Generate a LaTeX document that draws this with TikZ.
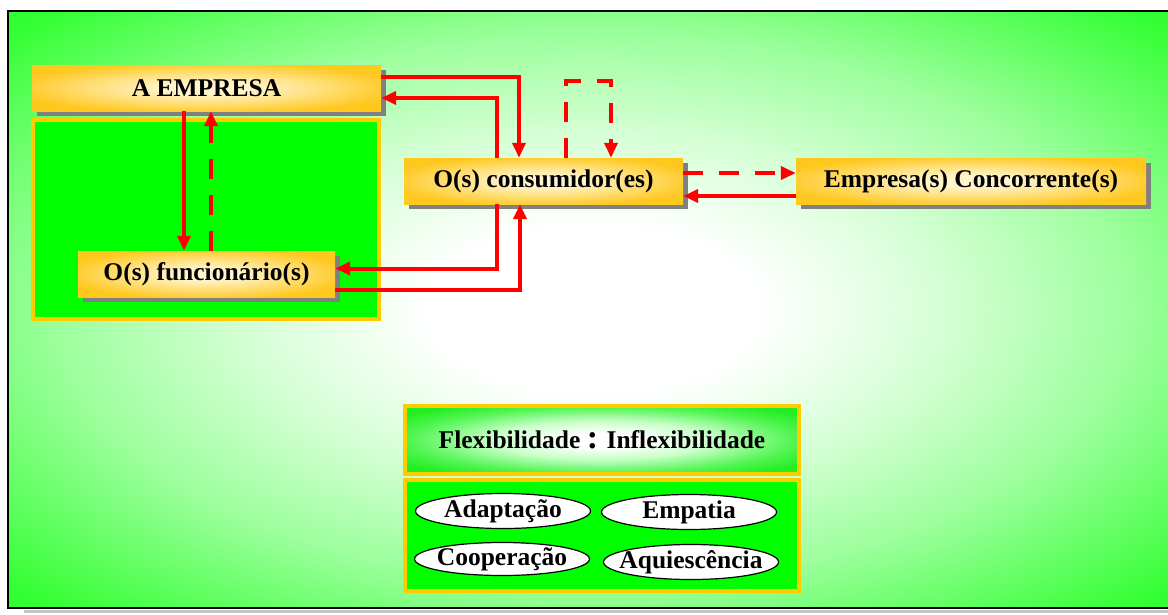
\documentclass[tikz,border=0pt]{standalone}
\usepackage{fontspec}
\setmainfont{Liberation Serif}
\usetikzlibrary{arrows.meta,shapes.geometric,shadows}

\definecolor{gold}{HTML}{FFC81E}
\definecolor{goldlight}{HTML}{FFF4CC}
\definecolor{puregreen}{HTML}{00FF00}
\definecolor{bordergold}{HTML}{FFCC00}
\definecolor{arrowred}{HTML}{FF0000}
\definecolor{gA}{HTML}{D4FFD4}
\definecolor{gB}{HTML}{9CFF9C}
\definecolor{gC}{HTML}{62FF62}
\definecolor{gD}{HTML}{33FF33}
\definecolor{gE}{HTML}{18FF18}
\definecolor{pA}{HTML}{C8FFC8}
\definecolor{pB}{HTML}{55F555}
\definecolor{pC}{HTML}{22EE22}

% glowing gold boxes
\pgfdeclareradialshading{goldglow}{\pgfpoint{0bp}{0bp}}{%
  color(0bp)=(goldlight); color(6bp)=(goldlight); color(28bp)=(gold); color(50bp)=(gold)}
% field behind the whole diagram
\pgfdeclareradialshading{fieldglow}{\pgfpoint{0bp}{0bp}}{%
  color(0bp)=(white); color(7bp)=(white); color(15bp)=(gA); color(23bp)=(gB);
  color(29bp)=(gC); color(34bp)=(gD); color(45bp)=(gE); color(50bp)=(gE)}
% title panel at the bottom
\pgfdeclareradialshading{panelglow}{\pgfpoint{0bp}{0bp}}{%
  color(0bp)=(white); color(5bp)=(white); color(14bp)=(pA); color(24bp)=(pB);
  color(31bp)=(pC); color(50bp)=(pC)}

\newcommand\boxfont{\fontsize{25.5}{30}\selectfont\bfseries}

\tikzset{
  goldbox/.style={rectangle, shading=goldglow, minimum height=46pt, inner sep=0pt,
    font=\boxfont,
    drop shadow={shadow xshift=5pt, shadow yshift=-5pt, fill=gray, opacity=1}},
  greenpanel/.style={rectangle, fill=puregreen, draw=bordergold, line width=4pt, inner sep=0pt},
  oval/.style={ellipse, draw=black, line width=1.2pt, fill=white, minimum width=175pt,
    minimum height=35pt, inner sep=0pt},
  ovaltext/.style={label={[font=\boxfont, inner sep=0pt]center:#1}},
  link/.style={draw=arrowred, line width=4pt, -{Triangle[length=15pt,width=13pt]}},
  dlink/.style={link, dash pattern=on 20pt off 16pt}
}

\begin{document}
\begin{tikzpicture}[x=1pt,y=-1pt]
\useasboundingbox (0,0) rectangle (1168,614);

% frame with its shadow line
\fill[gray!45] (24,610) rectangle (1168,613);
\shade[shading=fieldglow] (8,11) rectangle (1180,608);
\draw[line width=2pt] (1180,11) -- (8,11) -- (8,608) -- (1180,608);

% panels
\node[greenpanel, minimum width=346pt, minimum height=199pt] (staff) at (206,219.5) {};
\node[greenpanel, shading=panelglow, minimum width=394pt, minimum height=68pt] (flex) at (602,440) {};
\node[greenpanel, minimum width=394pt, minimum height=111pt] (traits) at (602,535.5) {};

% boxes
\node[goldbox, minimum width=349pt] (emp) at (206.5,88) {A EMPRESA};
\node[goldbox, minimum width=257pt] (func) at (206.5,274) {O(s) funcionário(s)};
\node[goldbox, minimum width=279pt] (cons) at (543.5,181) {O(s) consumidor(es)};
\node[goldbox, minimum width=350pt] (conc) at (971,181) {Empresa(s) Concorrente(s)};

% title and traits
\node[font=\boxfont] (flextext) at (flex.center) {Flexibilidade {\fontsize{34}{34}\selectfont :} Inflexibilidade};
\node[oval, ovaltext=Adaptação] (adapt) at (503,511) {};
\node[oval, ovaltext=Empatia] (empat) at (689,512) {};
\node[oval, minimum height=33pt, ovaltext=Cooperação] (coop) at (502,559) {};
\node[oval, ovaltext=Aquiescência] (aquie) at (691,562) {};

% connectors
\draw[link] ([yshift=11pt]emp.east) -| ([xshift=-24.5pt]cons.north);
\draw[link] ([xshift=-46.5pt]cons.north) |- ([yshift=-10pt]emp.east);
\draw[dlink] ([xshift=22.5pt]cons.north) -- ++(0,-77) -| ([xshift=67.5pt]cons.north);
\draw[link] ([xshift=-46.5pt]cons.south) |- ([yshift=5.5pt]func.east);
\draw[link] ([yshift=-16pt]func.east) -| ([xshift=-23.5pt]cons.south);
\draw[link] ([xshift=-22.5pt]emp.south) -- ([xshift=-22.5pt]func.north);
\draw[dlink] ([xshift=4.5pt]func.north) -- ([xshift=4.5pt]emp.south);
\draw[dlink] ([yshift=8pt]cons.east) -- ([yshift=8pt]conc.west);
\draw[link] ([yshift=-15pt]conc.west) -- ([yshift=-15pt]cons.east);
\end{tikzpicture}
\end{document}
